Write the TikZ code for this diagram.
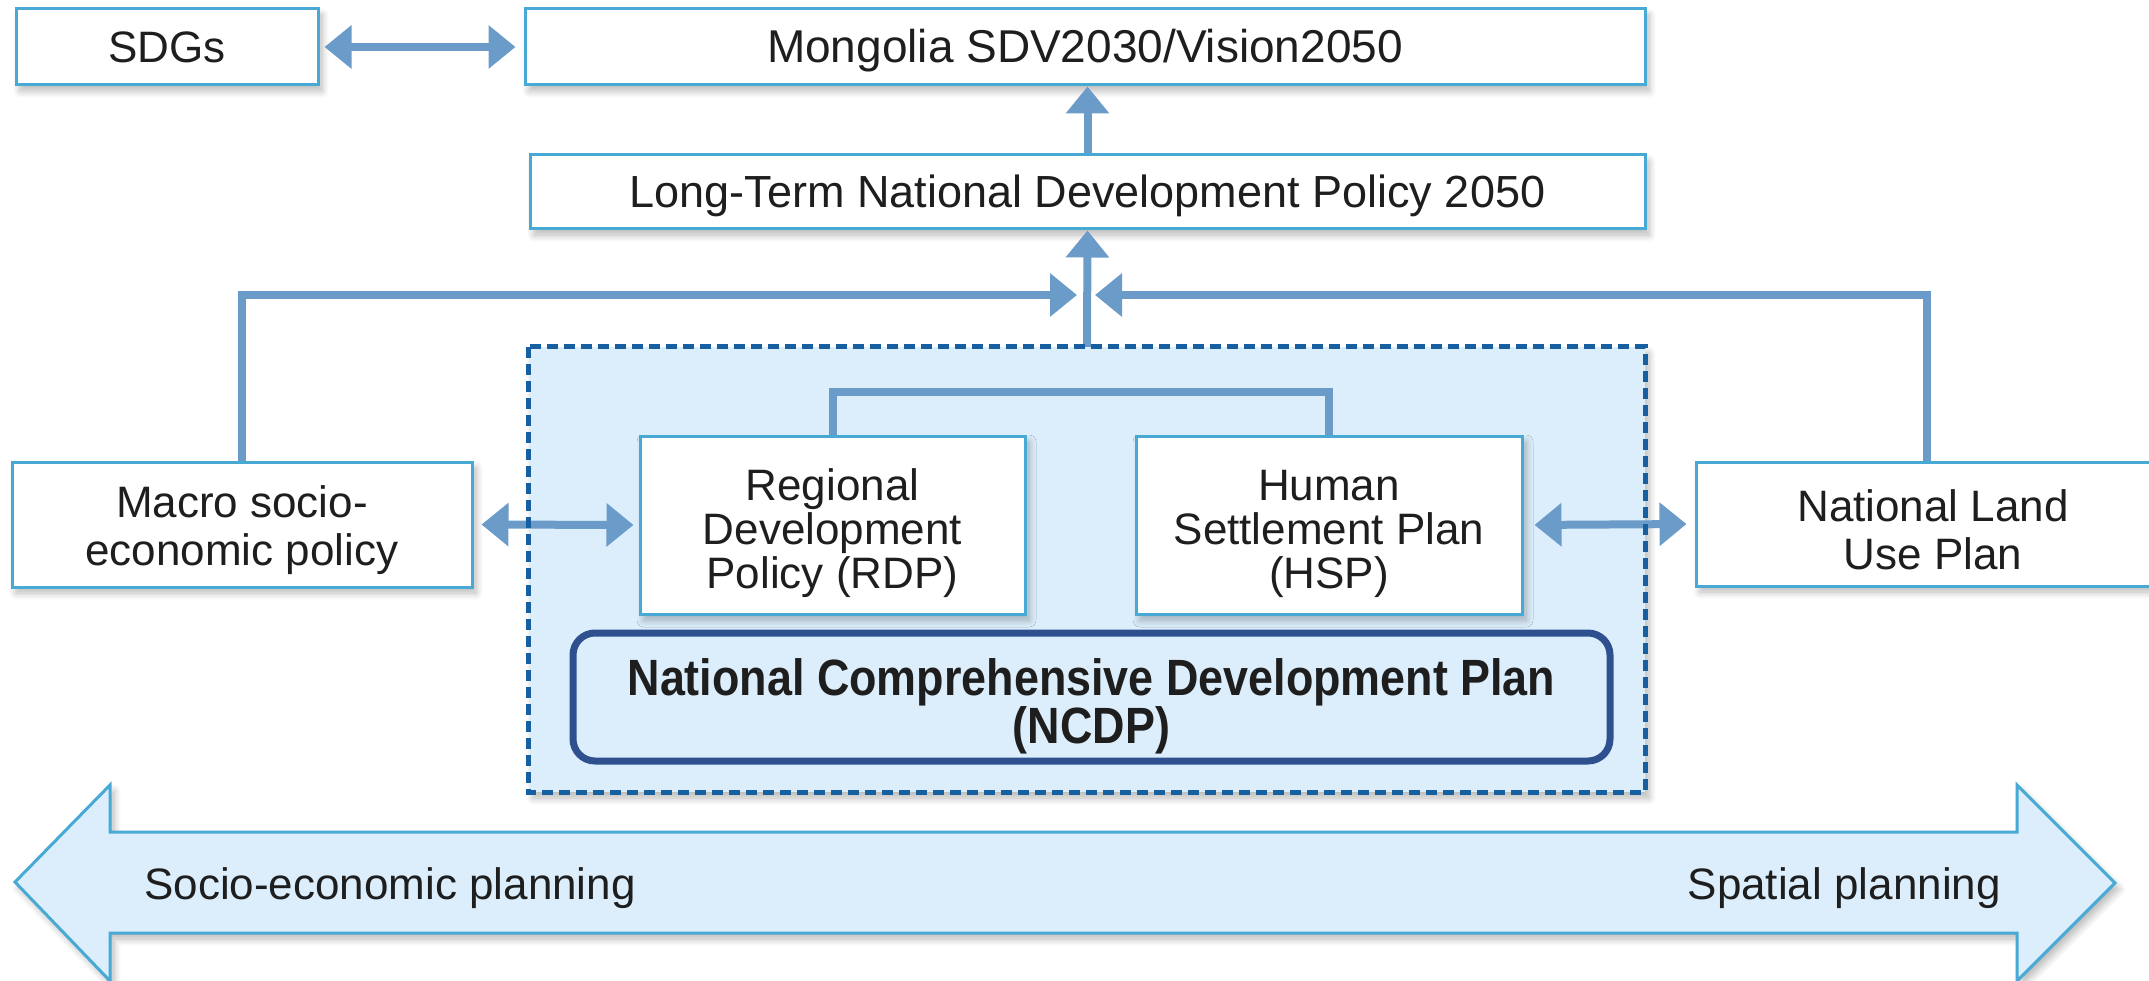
\documentclass[tikz,border=0pt]{standalone}
\usepackage{fontspec}
\setmainfont{Liberation Sans}
\newfontfamily\ncdpfont[FakeStretch=0.88]{Liberation Sans}
\usetikzlibrary{arrows.meta,shadows.blur}

\definecolor{arrowcol}{RGB}{107,155,200}
\definecolor{boxline}{RGB}{72,170,212}
\definecolor{dashcol}{RGB}{22,95,160}
\definecolor{panelfill}{RGB}{220,238,251}
\definecolor{ncdpcol}{RGB}{47,80,142}
\definecolor{textcol}{RGB}{30,30,30}

\tikzset{
  softshadow/.style={blur shadow={shadow xshift=4pt, shadow yshift=-6pt,
      shadow blur radius=7pt, shadow blur steps=10, shadow opacity=28}},
  planbox/.style={draw=boxline, line width=3pt, fill=white, inner sep=0pt,
      align=center, text=textcol, font=\fontsize{44}{48}\selectfont, softshadow},
  oneline/.style={text height=34pt, text depth=2.5pt},
  link/.style={draw=arrowcol, line width=8pt},
  headtip/.style={-{Triangle[length=27pt,width=42pt]}},
  twotip/.style={{Triangle[length=27pt,width=42pt]}-{Triangle[length=27pt,width=42pt]}},
  bandtext/.style={text=textcol, font=\fontsize{44}{48}\selectfont, inner sep=0pt}
}
% invisible strut that lowers a multi-line label inside its box
\newcommand\lowerby[1]{\rule{0pt}{#1}}

\begin{document}
\begin{tikzpicture}[x=1pt,y=-1pt]
\useasboundingbox (0,0) rectangle (2149,981);
\clip (0,0) rectangle (2149,981);

% large two-headed band along the bottom
\path[fill=panelfill, draw=boxline, line width=3pt, line join=miter, softshadow]
  (15,882) -- (110,785) -- (110,832) -- (2017,832) -- (2017,785) -- (2115,883)
  -- (2017,981) -- (2017,933) -- (110,933) -- (110,981) -- cycle;
\node[bandtext, anchor=base west] (socio) at (144,899) {Socio-economic planning};
\node[bandtext, anchor=base east] (spatial) at (2001,899) {Spatial planning};

% dashed NCDP panel (fill first, border later)
\node[minimum width=1116pt, minimum height=445pt, inner sep=0pt,
      fill=panelfill, softshadow] (panel) at (1087,569.5) {};

% boxes
\node[planbox, oneline, minimum width=302pt, minimum height=76pt] (sdg) at (167,47) {SDGs};
\node[planbox, oneline, minimum width=1120pt, minimum height=76pt,
      font=\fontsize{46}{48}\selectfont] (mong) at (1085,47)
  {Mongolia SDV2030/Vision2050};
\node[planbox, oneline, minimum width=1115pt, minimum height=74pt,
      font=\fontsize{45}{48}\selectfont] (lt) at (1087.5,192)
  {Long-Term National Development Policy 2050};
\node[planbox, minimum width=460pt, minimum height=125pt] (macro) at (242,524.5)
  {\lowerby{43pt}Macro socio-\\economic policy};
\node[planbox, minimum width=474pt, minimum height=124pt] (land) at (1933,524)
  {\lowerby{43pt}National Land\\Use Plan};
\node[planbox, minimum width=385pt, minimum height=178pt, softshadow/.style={},
      font=\fontsize{44}{44}\selectfont] (rdp) at (832.5,525)
  {\lowerby{48pt}Regional\\Development\\Policy (RDP)};
\node[planbox, minimum width=386pt, minimum height=178pt, softshadow/.style={},
      font=\fontsize{44}{44}\selectfont] (hsp) at (1329,525)
  {\lowerby{48pt}Human\\Settlement Plan\\(HSP)};
\node[draw=ncdpcol, line width=7pt, rounded corners=22pt, fill=panelfill,
      minimum width=1037pt, minimum height=128pt, inner sep=0pt, align=center,
      text=textcol, font=\ncdpfont\bfseries\fontsize{51}{46}\selectfont] (ncdp) at (1091.5,697)
  {\lowerby{56pt}National Comprehensive Development Plan\\(NCDP)};

% connectors
\coordinate (tipL) at (1077,295);
\coordinate (tipR) at (1095,295);
\draw[link, twotip, shorten <=5pt, shorten >=8pt] (sdg.east) -- (mong.west);
\draw[link, headtip] (lt.north) -- (lt.north |- mong.south);
\draw[link, headtip] (panel.north) -- (lt.south);
\draw[link, headtip] (macro.north) |- (tipL);
\draw[link, headtip] (land.north -| 1927,0) |- (tipR);
\draw[link] (rdp.north) -- (rdp.north |- 0,392) -| (hsp.north);
\draw[link, twotip, shorten <=8pt, shorten >=5pt] (macro.east) -- (rdp.west);
\draw[link, twotip, shorten <=11pt, shorten >=8pt] (hsp.east) -- (land.west);

% dashed panel border on top
\draw[dashcol, line width=5pt, dash pattern=on 11pt off 6pt]
  (panel.north west) rectangle (panel.south east);
\end{tikzpicture}
\end{document}
